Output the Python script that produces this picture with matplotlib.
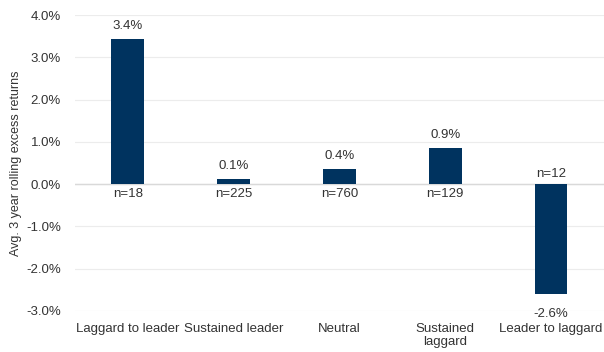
import numpy as np
import matplotlib.pyplot as plt
from matplotlib.ticker import FuncFormatter

plt.rcParams['font.family'] = ['Liberation Sans', 'DejaVu Sans']

# Data
categories = ['Laggard to leader', 'Sustained leader', 'Neutral', 'Sustained\nlaggard', 'Leader to laggard']
returns = [3.43, 0.12, 0.37, 0.86, -2.6]
value_labels = ['3.4%', '0.1%', '0.4%', '0.9%', '-2.6%']
counts = [18, 225, 760, 129, 12]

BAR_COLOR = '#00335F'
TEXT_COLOR = '#333333'
FS = 9.5

fig = plt.figure(figsize=(6.04, 3.52), dpi=100)
ax = fig.add_axes([0.124, 0.1165, 0.876, 0.8405])

x = np.arange(len(categories))
ax.bar(x, returns, width=0.31, color=BAR_COLOR, zorder=3)

ax.set_xlim(-0.5, len(categories) - 0.5)
ax.set_ylim(-3.0, 4.0)
ax.set_yticks(np.arange(-3, 5, 1))
ax.yaxis.set_major_formatter(FuncFormatter(lambda v, p: f'{v:.1f}%'))

# Gridlines
ax.grid(axis='y', color='#ececec', linewidth=0.8, zorder=0)
ax.axhline(0, color='#d9d9d9', linewidth=1.0, zorder=2)

for s in ax.spines.values():
    s.set_visible(False)
ax.tick_params(axis='both', length=0, labelsize=FS, colors=TEXT_COLOR)
ax.tick_params(axis='y', pad=10)
ax.set_xticks(x)
ax.set_xticklabels(categories, va='top', linespacing=1.05)
ax.tick_params(axis='x', pad=9)

ax.set_ylabel('Avg. 3 year rolling excess returns', fontsize=9, color=TEXT_COLOR, labelpad=3)

# Value labels and sample counts
for xi, val, lab, n in zip(x, returns, value_labels, counts):
    if val >= 0:
        ax.annotate(lab, (xi, val), xytext=(0, 5), textcoords='offset points',
                    ha='center', va='bottom', fontsize=FS, color=TEXT_COLOR)
        ax.annotate(f'n={n}', (xi, 0), xytext=(0, -3), textcoords='offset points',
                    ha='center', va='top', fontsize=FS, color=TEXT_COLOR)
    else:
        ax.annotate(lab, (xi, val), xytext=(0, -10), textcoords='offset points',
                    ha='center', va='top', fontsize=FS, color=TEXT_COLOR)
        ax.annotate(f'n={n}', (xi, 0), xytext=(0, 3), textcoords='offset points',
                    ha='center', va='bottom', fontsize=FS, color=TEXT_COLOR)

fig.savefig('out.png', dpi=100)
